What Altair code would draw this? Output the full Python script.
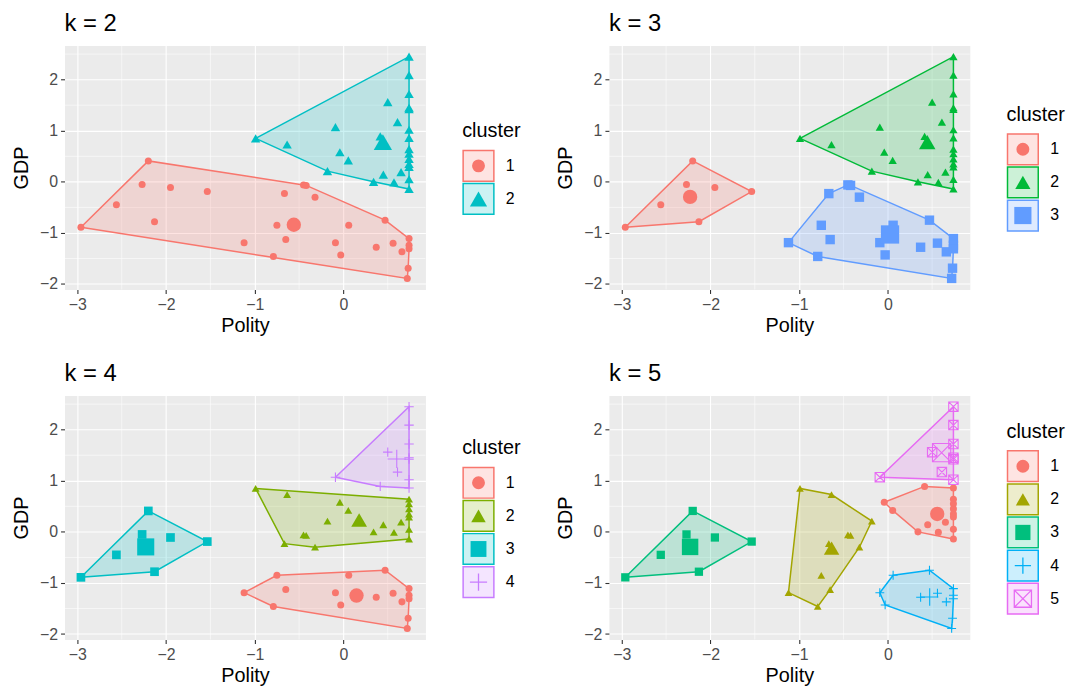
import altair as alt
import pandas as pd

polity = [-2.96, -2.56, -2.20, -2.27, -2.13, -1.95, -1.535,
          -1.12, -0.79, -0.75, -0.665, -0.65, -0.45, -0.42, -0.32, -0.09, -0.03, 0.06,
          0.37, 0.47, 0.56, 0.66, 0.74, 0.74, 0.74, 0.73, 0.72,
          0.74, 0.74, 0.74, 0.74, 0.74, 0.74, 0.74, 0.74, 0.74, 0.74, 0.74, 0.74, 0.74, 0.74,
          -0.99, -0.635, -0.09, -0.04, 0.055, -0.18, 0.50, 0.61, 0.415, 0.45, 0.34, 0.57, 0.65]
gdp = [-0.89, -0.45, 0.41, -0.05, -0.78, -0.11, -0.19,
       -1.19, -1.46, -0.85, -0.23, -1.13, -0.06, -0.07, -0.30, -1.19, -1.43, -0.85,
       -1.28, -0.75, -1.20, -1.37, -1.11, -1.24, -1.31, -1.69, -1.89,
       2.45, 2.09, 1.72, 1.45, 1.42, 1.02, 0.86, 0.64, 0.55, 0.45, 0.35, 0.29, 0.05, -0.14,
       0.85, 0.73, 1.07, 0.58, 0.42, 0.21, 1.56, 1.17, 0.89, 0.14, 0.00, -0.01, 0.19]

cluster_k2 = [1, 1, 1, 1, 1, 1, 1,
              1, 1, 1, 1, 1, 1, 1, 1, 1, 1, 1, 1, 1, 1, 1, 1, 1, 1, 1, 1,
              2, 2, 2, 2, 2, 2, 2, 2, 2, 2, 2, 2, 2, 2,
              2, 2, 2, 2, 2, 2, 2, 2, 2, 2, 2, 2, 2]
cluster_k3 = [1, 1, 1, 1, 1, 1, 1,
              3, 3, 3, 3, 3, 3, 3, 3, 3, 3, 3, 3, 3, 3, 3, 3, 3, 3, 3, 3,
              2, 2, 2, 2, 2, 2, 2, 2, 2, 2, 2, 2, 2, 2,
              2, 2, 2, 2, 2, 2, 2, 2, 2, 2, 2, 2, 2]
cluster_k4 = [3, 3, 3, 3, 3, 3, 3,
              1, 1, 1, 2, 1, 2, 2, 2, 1, 1, 1, 1, 1, 1, 1, 1, 1, 1, 1, 1,
              4, 4, 4, 4, 4, 4, 4, 2, 2, 2, 2, 2, 2, 2,
              2, 2, 4, 2, 2, 2, 4, 4, 4, 2, 2, 2, 2]
cluster_k5 = [3, 3, 3, 3, 3, 3, 3,
              2, 2, 2, 2, 2, 2, 2, 2, 4, 4, 4, 4, 4, 4, 4, 4, 4, 4, 4, 4,
              5, 5, 5, 5, 5, 5, 1, 1, 1, 1, 1, 1, 1, 1,
              2, 2, 5, 1, 1, 2, 5, 5, 1, 1, 1, 1, 1]

panel_titles = ["k = 2", "k = 3", "k = 4", "k = 5"]
palettes = {
    2: ["#F8766D", "#00BFC4"],
    3: ["#F8766D", "#00BA38", "#619CFF"],
    4: ["#F8766D", "#7CAE00", "#00BFC4", "#C77CFF"],
    5: ["#F8766D", "#A3A500", "#00BF7D", "#00B0F6", "#E76BF3"],
}
x_ticks = [-3, -2, -1, 0]
y_ticks = [-2, -1, 0, 1, 2]
x_minor = [-2.5, -1.5, -0.5, 0.5]
y_minor = [-1.5, -0.5, 0.5, 1.5, 2.5]

# ---- styling ----
SHAPES = ["circle", "triangle-up", "square", "M-1,0H1M0,-1V1",
          "M-1,-1H1V1H-1ZM-1,-1L1,1M-1,1L1,-1"]
FILLED = ["1", "2", "3"]
STROKED = ["4", "5"]
PT_SIZE = [50, 90, 50, 135, 58]
CEN_SIZE = [210, 340, 175, 430, 195]
LEG_SIZE = [170, 300, 160, 380, 100]
W, H = 364, 246
LEG_W = 60
KEY = 31
ROW_H = 33.4
LEG_T = 30
FONT = "Liberation Sans"


def convex_hull(points):
    pts = sorted(set(points))
    if len(pts) < 3:
        return pts

    def cross(o, a, b):
        return (a[0] - o[0]) * (b[1] - o[1]) - (a[1] - o[1]) * (b[0] - o[0])

    lower = []
    for p in pts:
        while len(lower) >= 2 and cross(lower[-2], lower[-1], p) <= 0:
            lower.pop()
        lower.append(p)
    upper = []
    for p in reversed(pts):
        while len(upper) >= 2 and cross(upper[-2], upper[-1], p) <= 0:
            upper.pop()
        upper.append(p)
    return lower[:-1] + upper[:-1]


xs = alt.Scale(domain=[-3.145, 0.925], nice=False, zero=False)
ys = alt.Scale(domain=[-2.107, 2.667], nice=False, zero=False)
x_axis = alt.Axis(values=x_ticks, title="Polity")
y_axis = alt.Axis(values=y_ticks, title="GDP")


def make_panel(k, clusters, title):
    labs = [str(i) for i in range(1, k + 1)]
    cols = palettes[k]
    df = pd.DataFrame({"polity": polity, "gdp": gdp,
                       "cluster": [str(c) for c in clusters]})
    rows = []
    for lab in labs:
        sub = df[df.cluster == lab]
        hv = convex_hull(list(zip(sub.polity, sub.gdp)))
        hv = hv + hv[:1]
        for i, (px, py) in enumerate(hv):
            rows.append({"polity": px, "gdp": py, "cluster": lab, "order": i})
    hull_df = pd.DataFrame(rows)

    cs = alt.Scale(domain=labs, range=cols)
    shs = alt.Scale(domain=labs, range=SHAPES[:k])
    X = alt.X("polity:Q", scale=xs, axis=x_axis)
    Y = alt.Y("gdp:Q", scale=ys, axis=y_axis)

    minor_x = alt.Chart(pd.DataFrame({"polity": x_minor})).mark_rule(
        color="white", strokeWidth=0.55).encode(x=X)
    minor_y = alt.Chart(pd.DataFrame({"gdp": y_minor})).mark_rule(
        color="white", strokeWidth=0.55).encode(y=Y)

    hull = alt.Chart(hull_df).mark_line(strokeWidth=1.5, fillOpacity=0.2).encode(
        x=X, y=Y, order="order:Q",
        color=alt.Color("cluster:N", scale=cs, legend=None),
        fill=alt.Fill("cluster:N", scale=cs, legend=None),
        detail="cluster:N")

    layers = [minor_x, minor_y, hull]
    groups = [(FILLED, True), (STROKED, False)]
    for size_range, aggregate in [(PT_SIZE, False), (CEN_SIZE, True)]:
        for keep, filled in groups:
            keep_here = [c for c in keep if c in labs]
            if not keep_here:
                continue
            base = alt.Chart(df)
            if aggregate:
                base = base.transform_aggregate(
                    polity="mean(polity)", gdp="mean(gdp)", groupby=["cluster"])
            base = base.transform_filter(
                alt.FieldOneOfPredicate(field="cluster", oneOf=keep_here))
            if filled:
                mk = base.mark_point(filled=True, opacity=1)
            else:
                mk = base.mark_point(filled=False, opacity=1, strokeWidth=1.1)
            layers.append(mk.encode(
                x=X, y=Y,
                color=alt.Color("cluster:N", scale=cs, legend=None),
                shape=alt.Shape("cluster:N", scale=shs, legend=None),
                size=alt.Size("cluster:N",
                              scale=alt.Scale(domain=labs, range=size_range[:k]),
                              legend=None)))
    plot = alt.layer(*layers).resolve_scale(size="independent").properties(
        width=W, height=H,
        view=alt.ViewBackground(fill="#EBEBEB", stroke="transparent"),
        title=alt.TitleParams(text=title, anchor="start", frame="group",
                              fontSize=24, fontWeight="normal", color="black",
                              font=FONT, offset=9))

    # ---- legend drawn as its own small chart ----
    n = k
    top0 = (H - (LEG_T + n * ROW_H)) / 2
    first = top0 + LEG_T + ROW_H / 2
    last = first + (n - 1) * ROW_H
    ldf = pd.DataFrame({"cluster": labs})
    LY = alt.Y("cluster:N", axis=None,
               scale=alt.Scale(type="point", domain=labs, range=[first, last], padding=0))
    keys = alt.Chart(ldf).mark_square(size=KEY * KEY, fillOpacity=0.2, strokeWidth=1.5,
                                      opacity=1).encode(
        x=alt.value(KEY / 2 + 1), y=LY,
        fill=alt.Fill("cluster:N", scale=cs, legend=None),
        stroke=alt.Stroke("cluster:N", scale=cs, legend=None))
    llayers = [keys]
    for keep, filled in groups:
        keep_here = [c for c in keep if c in labs]
        if not keep_here:
            continue
        b = alt.Chart(ldf).transform_filter(
            alt.FieldOneOfPredicate(field="cluster", oneOf=keep_here))
        if filled:
            mk = b.mark_point(filled=True, opacity=1)
        else:
            mk = b.mark_point(filled=False, opacity=1, strokeWidth=1.3)
        llayers.append(mk.encode(
            x=alt.value(KEY / 2 + 1), y=LY,
            color=alt.Color("cluster:N", scale=cs, legend=None),
            shape=alt.Shape("cluster:N", scale=shs, legend=None),
            size=alt.Size("cluster:N", scale=alt.Scale(domain=labs, range=LEG_SIZE[:k]),
                          legend=None)))
    labels = alt.Chart(ldf).mark_text(align="left", baseline="middle", fontSize=16,
                                      font=FONT, color="black").encode(
        x=alt.value(44), y=LY, text="cluster:N")
    ltitle = alt.Chart(pd.DataFrame({"t": ["cluster"]})).mark_text(
        align="left", baseline="middle", fontSize=20, font=FONT, color="black").encode(
        x=alt.value(0), y=alt.value(top0 + 12), text="t:N")
    llayers += [labels, ltitle]
    legend = alt.layer(*llayers).properties(
        width=LEG_W, height=H,
        view=alt.ViewBackground(fill="white", stroke="transparent"))
    return plot, legend


ind = dict(color="independent", fill="independent", stroke="independent",
           shape="independent", size="independent", x="independent", y="independent")

p2, l2 = make_panel(2, cluster_k2, panel_titles[0])
p3, l3 = make_panel(3, cluster_k3, panel_titles[1])
p4, l4 = make_panel(4, cluster_k4, panel_titles[2])
p5, l5 = make_panel(5, cluster_k5, panel_titles[3])

row1 = alt.hconcat(p2, l2, p3, l3, spacing=33).resolve_scale(**ind)
row2 = alt.hconcat(p4, l4, p5, l5, spacing=33).resolve_scale(**ind)

chart = alt.vconcat(row1, row2, spacing=26).resolve_scale(**ind).properties(
    padding={"left": 3, "top": 1, "right": 0, "bottom": 0}
).configure(font=FONT).configure_view(stroke="transparent").configure_axis(
    labelFont=FONT, titleFont=FONT,
    labelFontSize=16, labelColor="#4D4D4D",
    tickColor="#333333", tickSize=4, tickWidth=1.1,
    domain=False, gridColor="white", gridWidth=1.1,
    titleFontSize=20, titleFontWeight="normal", titleColor="black",
).configure_axisX(labelPadding=3, titlePadding=3).configure_axisY(
    labelPadding=3, titlePadding=8)

chart.save("out.html", embed_options={"renderer": "svg", "actions": False})
